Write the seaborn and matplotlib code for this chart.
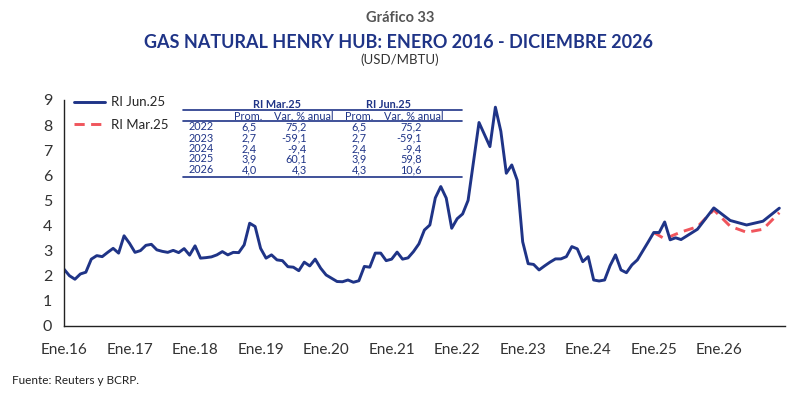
import numpy as np
import pandas as pd
import seaborn as sns
import matplotlib
matplotlib.use("Agg")
import matplotlib.pyplot as plt
from matplotlib.lines import Line2D

# Henry Hub (USD/MBTU), promedio mensual, ene.16 - jun.25
hist = [
    2.26, 2.00, 1.86, 2.07, 2.14, 2.66, 2.80, 2.76, 2.93, 3.09, 2.90, 3.59,  # 2016
    3.29, 2.93, 3.00, 3.21, 3.25, 3.03, 2.97, 2.93, 3.01, 2.92, 3.08, 2.82,  # 2017
    3.19, 2.70, 2.72, 2.75, 2.83, 2.96, 2.83, 2.93, 2.92, 3.23, 4.09, 3.96,  # 2018
    3.09, 2.70, 2.83, 2.63, 2.60, 2.36, 2.34, 2.20, 2.54, 2.39, 2.66, 2.30,  # 2019
    2.03, 1.90, 1.77, 1.76, 1.83, 1.74, 1.80, 2.37, 2.34, 2.90, 2.90, 2.60,  # 2020
    2.66, 2.94, 2.66, 2.71, 2.96, 3.27, 3.82, 4.02, 5.10, 5.55, 5.09, 3.89,  # 2021
    4.27, 4.46, 5.00, 6.55, 8.10, 7.62, 7.14, 8.71, 7.75, 6.08, 6.41, 5.80,  # 2022
    3.35, 2.48, 2.45, 2.23, 2.39, 2.54, 2.67, 2.67, 2.76, 3.16, 3.07, 2.56,  # 2023
    2.76, 1.83, 1.79, 1.83, 2.40, 2.83, 2.23, 2.12, 2.43, 2.63, 2.99, 3.35,  # 2024
    3.72, 3.72, 4.14, 3.43, 3.51, 3.44,                                      # 2025
]

# proyecciones
jun25_meses = ["2025-09", "2025-12", "2026-03", "2026-06", "2026-09", "2026-12"]
jun25_proy = [3.85, 4.70, 4.20, 4.02, 4.17, 4.69]
mar25_meses = ["2025-01", "2025-03", "2025-06", "2025-09", "2025-12",
               "2026-03", "2026-06", "2026-09", "2026-12"]
mar25_proy = [3.72, 3.47, 3.74, 3.95, 4.62, 3.97, 3.73, 3.85, 4.51]

# cuadro
tabla_anios = ["2022", "2023", "2024", "2025", "2026"]
mar_prom = ["6,5", "2,7", "2,4", "3,9", "4,0"]
mar_var = ["75,2", "-59,1", "-9,4", "60,1", "4,3"]
jun_prom = ["6,5", "2,7", "2,4", "3,9", "4,3"]
jun_var = ["75,2", "-59,1", "-9,4", "59,8", "10,6"]

tick_labels = ["Ene.%02d" % a for a in range(16, 27)] + [""]

AZUL = "#1f3487"
ROJO = "#f0555c"
GRIS = "#555555"
DASH = (3.5, 2.2)


def idx(mes):
    a, m = mes.split("-")
    return (int(a) - 2016) * 12 + int(m) - 1


hist_x = list(range(len(hist)))
df_jun = pd.DataFrame({"mes": hist_x + [idx(m) for m in jun25_meses],
                       "valor": hist + jun25_proy})
df_mar = pd.DataFrame({"mes": [idx(m) for m in mar25_meses], "valor": mar25_proy})

sns.set_style("white")
plt.rcParams["font.family"] = ["Lato", "DejaVu Sans"]

fig = plt.figure(figsize=(8, 3.98), dpi=100)
ax = fig.add_axes([0.08, 0.181, 0.901, 0.568])

sns.lineplot(data=df_mar, x="mes", y="valor", ax=ax, color=ROJO, lw=2.1, estimator=None)
ax.lines[-1].set_dashes(DASH)
sns.lineplot(data=df_jun, x="mes", y="valor", ax=ax, color=AZUL, lw=2.1, estimator=None)

ax.set_xlim(0, 132)
ax.set_ylim(0, 9)
ax.set_xticks(range(0, 133, 12))
ax.set_xticklabels(tick_labels)
ax.set_yticks(range(0, 10))
ax.set_xlabel("")
ax.set_ylabel("")
for s in ["top", "right"]:
    ax.spines[s].set_visible(False)
for s in ["left", "bottom"]:
    ax.spines[s].set_color("#222222")
    ax.spines[s].set_linewidth(1.0)
ax.tick_params(axis="both", direction="out", length=5, width=1, color="#222222",
               labelcolor="#333333", labelsize=11.5)
ax.tick_params(axis="x", pad=7, labelsize=11)

h = [Line2D([], [], color=AZUL, lw=2.1),
     Line2D([], [], color=ROJO, lw=2.1, dashes=DASH)]
ax.legend(h, ["RI Jun.25", "RI Mar.25"], loc="upper left", bbox_to_anchor=(0.007, 1.04),
          frameon=False, handlelength=2.3, handletextpad=0.45, labelspacing=0.8,
          fontsize=9.5, borderaxespad=0)


def px(x, y):
    return x / 800, 1 - y / 398


# titulos
fig.text(*px(400, 18), "Gráfico 33", ha="center", va="center", color=GRIS,
         fontsize=10.5, fontweight="bold")
fig.text(*px(398, 42), "GAS NATURAL HENRY HUB: ENERO 2016 - DICIEMBRE 2026", ha="center",
         va="center", color=AZUL, fontsize=13, fontweight="bold")
fig.text(*px(400, 60), "(USD/MBTU)", ha="center", va="center", color="#333333", fontsize=9.5)
fig.text(*px(12, 380), "Fuente: Reuters y BCRP.", ha="left", va="center", color="#222222",
         fontsize=8.5)

# cuadro de proyecciones
tf = dict(va="center", color=AZUL, fontsize=7.8)
fig.text(*px(277, 104), "RI Mar.25", ha="center", fontweight="bold", **tf)
fig.text(*px(388, 104), "RI Jun.25", ha="center", fontweight="bold", **tf)
for cx, lab in [(248, "Prom."), (304, "Var. % anual"), (359, "Prom."), (414, "Var. % anual")]:
    fig.text(*px(cx, 116), lab, ha="center", **tf)
for yl in [110, 121, 177]:
    fig.add_artist(Line2D([183 / 800, 462 / 800], [1 - yl / 398] * 2, color=AZUL, lw=1.2,
                          transform=fig.transFigure))
filas_y = [127, 138, 148.5, 159, 170]
for i, yy in enumerate(filas_y):
    fig.text(*px(189, yy), tabla_anios[i], ha="left", **tf)
    fig.text(*px(257, yy), mar_prom[i], ha="right", **tf)
    fig.text(*px(307, yy), mar_var[i], ha="right", **tf)
    fig.text(*px(367, yy), jun_prom[i], ha="right", **tf)
    fig.text(*px(422, yy), jun_var[i], ha="right", **tf)

fig.savefig("out.png", dpi=100)
